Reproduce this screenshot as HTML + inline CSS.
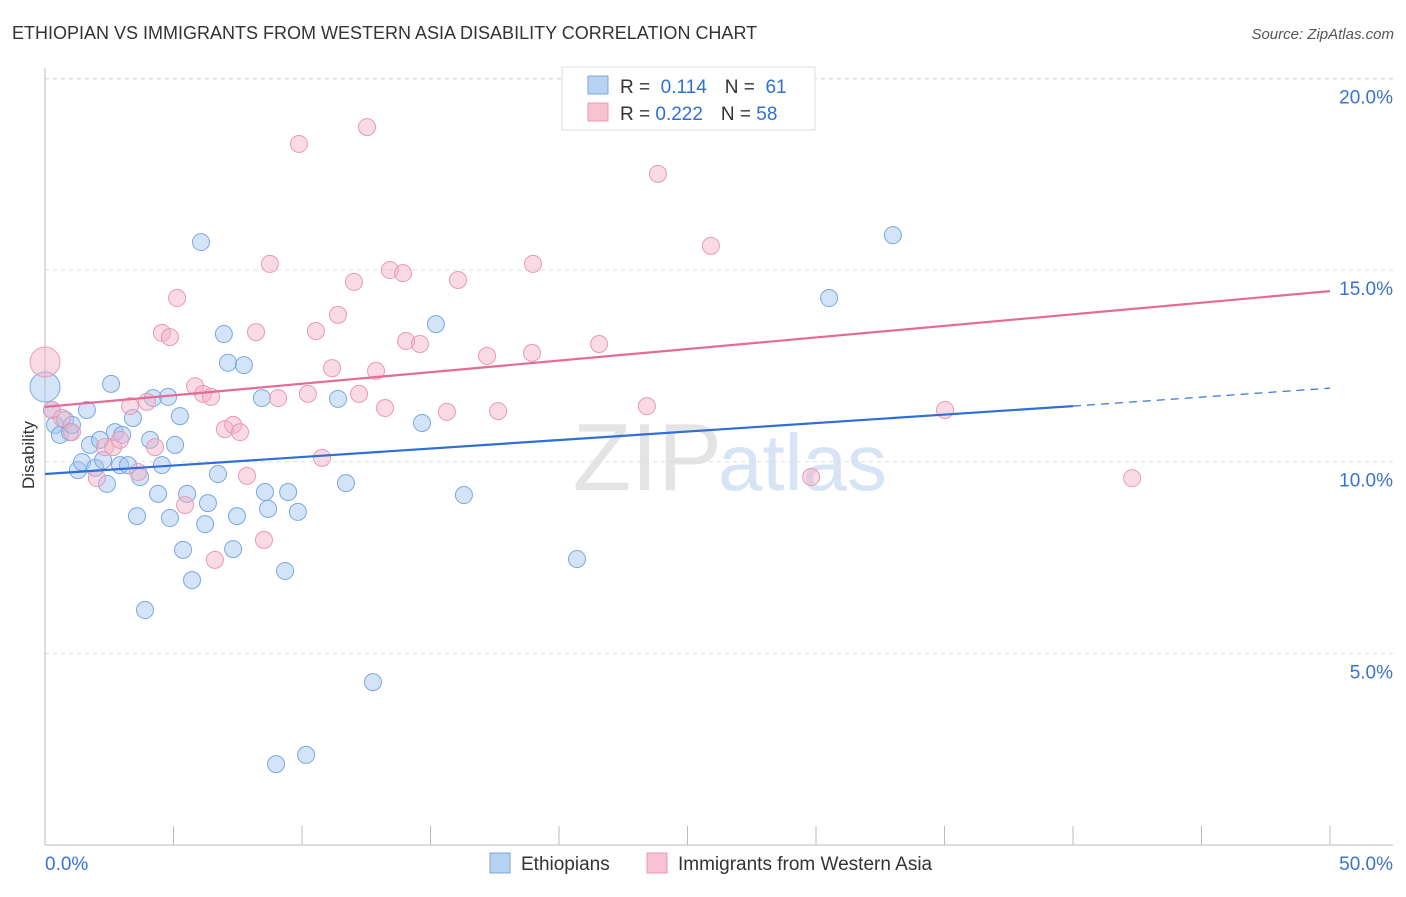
<!DOCTYPE html>
<html><head><meta charset="utf-8"><style>
body{margin:0;background:#fff;font-family:"Liberation Sans",sans-serif;}
svg text{font-family:"Liberation Sans",sans-serif;}
</style></head><body>
<svg id="chart" width="1406" height="892">
<text x="12" y="39" font-size="18" fill="#333">ETHIOPIAN VS IMMIGRANTS FROM WESTERN ASIA DISABILITY CORRELATION CHART</text>
<text x="1394" y="39" font-size="15" fill="#555" font-style="italic" text-anchor="end">Source: ZipAtlas.com</text>
<text x="722" y="490" font-size="96" fill="#e4e4e4" text-anchor="end" font-family="Liberation Serif">ZIP</text>
<text x="718" y="490" font-size="80" fill="#d6e4f5">atlas</text>
<g id="grid"></g><g id="axes"></g><g id="pts"></g><g id="lines"></g>
<text x="34" y="455" font-size="17" fill="#333" transform="rotate(-90 34 455)" text-anchor="middle">Disability</text>
<g>
<rect x="562" y="67" width="253" height="63" fill="#fff" stroke="#ddd"/>
<rect x="588" y="76" width="20" height="18" fill="#b8d2f3" stroke="#7aa8e0"/>
<rect x="588" y="103" width="20" height="18" fill="#f9c2d3" stroke="#e89ab5"/>
<text x="620" y="93" font-size="19" fill="#333">R = <tspan fill="#2f6fd6">&#160;0.114</tspan><tspan dx="18">N = </tspan><tspan fill="#2f6fd6">&#160;61</tspan></text>
<text x="620" y="120" font-size="19" fill="#333">R = <tspan fill="#2f6fd6">0.222</tspan><tspan dx="18">N = </tspan><tspan fill="#2f6fd6">58</tspan></text>
</g>
<g>
<rect x="490" y="853" width="20" height="20" fill="#b8d2f3" stroke="#7aa8e0"/>
<text x="521" y="870" font-size="19" fill="#333">Ethiopians</text>
<rect x="647" y="853" width="20" height="20" fill="#f9c2d3" stroke="#e89ab5"/>
<text x="678" y="870" font-size="19" fill="#333">Immigrants from Western Asia</text>
</g>
</svg>
<script>
const blueX=[0,0.27,0.39,0.58,0.78,0.97,1.05,1.28,1.44,1.63,1.75,1.95,2.14,2.26,2.41,2.57,2.72,2.92,3.00,3.23,3.42,3.58,3.70,3.89,4.09,4.20,4.40,4.55,4.79,4.86,5.06,5.25,5.37,5.53,5.72,6.07,6.34,6.23,6.73,6.96,7.12,7.32,7.47,7.74,8.44,8.56,8.68,8.99,9.34,9.46,9.84,10.16,11.40,11.71,12.76,14.67,15.21,16.30,20.70,30.51,32.99];
const blueY=[11.95,11.35,10.96,10.70,11.09,10.77,10.96,9.78,9.99,11.35,10.44,9.84,10.57,10.04,9.42,12.03,10.77,9.91,10.70,9.91,11.14,8.58,9.60,6.13,10.57,11.66,9.16,9.91,11.69,8.53,10.44,11.19,7.70,9.16,6.91,15.73,8.92,8.37,9.68,13.33,12.58,7.72,8.58,12.52,11.66,9.21,8.77,2.11,7.15,9.21,8.69,2.35,11.64,9.44,4.25,11.01,13.59,9.13,7.46,14.27,15.91];
const pinkX=[0,0.27,0.66,1.05,2.02,2.33,2.65,2.92,3.31,3.62,3.97,4.28,4.55,4.86,5.14,5.45,5.84,6.15,6.46,6.61,7.00,7.32,7.59,7.86,8.21,8.52,8.75,9.07,9.88,10.23,10.54,10.78,11.17,11.40,12.02,12.22,12.53,12.88,13.23,13.42,13.93,14.05,14.59,15.64,16.07,17.20,17.63,18.95,18.99,21.56,23.42,23.85,25.91,29.81,35.02,42.30];
const pinkY=[12.60,11.35,11.14,10.77,9.57,10.38,10.38,10.57,11.45,9.73,11.56,10.38,13.36,13.25,14.27,8.87,11.97,11.77,11.69,7.44,10.85,10.96,10.77,9.63,13.38,7.96,15.16,11.66,18.29,11.77,13.41,10.10,12.44,13.83,14.69,11.77,18.73,12.37,11.40,15.00,14.92,13.15,13.07,11.30,14.74,12.76,11.32,12.84,15.16,13.07,11.45,17.51,15.63,9.60,11.35,9.57];
const yTicks=[5,10,15,20];
const yTickLabels=["5.0%","10.0%","15.0%","20.0%"];
const xTickLabels=["0.0%","50.0%"];
const blueTrend=[9.68,11.45,11.92]; // at x=0, 40, 50
const pinkTrend=[11.43,14.45]; // at x=0, 50
const sx=v=>45+v*25.7, sy=v=>845-v*38.33;
const NS="http://www.w3.org/2000/svg";
function mk(tag,attrs,parent){const e=document.createElementNS(NS,tag);for(const k in attrs)e.setAttribute(k,attrs[k]);parent.appendChild(e);return e;}
const grid=document.getElementById('grid'),axes=document.getElementById('axes'),pts=document.getElementById('pts'),lines=document.getElementById('lines');
yTicks.forEach((t,i)=>{
 const l=mk('line',{x1:45,x2:1393,y1:sy(t),y2:sy(t),stroke:'#ddd','stroke-dasharray':'4 4'},grid);
 
 
 const tx=mk('text',{x:1393,y:sy(t)+25,'font-size':19,fill:'#3a72d0','text-anchor':'end'},axes);
 tx.textContent=yTickLabels[i];
 
 
});
const tl=mk('line',{x1:45,x2:1393,y1:79,y2:79,stroke:'#ddd','stroke-dasharray':'4 4'},grid);


const xa=mk('line',{x1:45,x2:1393,y1:845,y2:845,stroke:'#bbb'},axes);


const ya=mk('line',{x1:45,x2:45,y1:68,y2:845,stroke:'#bbb'},axes);


for(let i=0;i<=10;i++){
 const t=mk('line',{x1:sx(i*5),x2:sx(i*5),y1:826,y2:845,stroke:'#bbb'},axes);
 
 
}
const xl0=mk('text',{x:45,y:870,'font-size':19,fill:'#3a72d0'},axes);xl0.textContent=xTickLabels[0];


const xl1=mk('text',{x:1393,y:870,'font-size':19,fill:'#3a72d0','text-anchor':'end'},axes);xl1.textContent=xTickLabels[1];


function drawPts(X,Y,fill,stroke,name){
 X.forEach((x,i)=>{
  const r=(i===0)?15:8.5;
  const c=mk('circle',{cx:sx(x),cy:sy(Y[i]),r:r,fill:fill,stroke:stroke,'stroke-width':1},pts);
  
  
 });
}
drawPts(blueX,blueY,'rgba(160,195,240,0.45)','#7aa8e0','ethiopians-point');
drawPts(pinkX,pinkY,'rgba(245,175,198,0.45)','#e89ab5','immigrants-point');
const b1=mk('line',{x1:sx(0),y1:sy(blueTrend[0]),x2:sx(40),y2:sy(blueTrend[1]),stroke:'#2f6fd6','stroke-width':2.2},lines);


const b2=mk('line',{x1:sx(40),y1:sy(blueTrend[1]),x2:sx(50),y2:sy(blueTrend[2]),stroke:'#2f6fd6','stroke-width':1.2,'stroke-dasharray':'8 6'},lines);


const p1=mk('line',{x1:sx(0),y1:sy(pinkTrend[0]),x2:sx(50),y2:sy(pinkTrend[1]),stroke:'#e66a96','stroke-width':2.2},lines);


</script>
</body></html>
